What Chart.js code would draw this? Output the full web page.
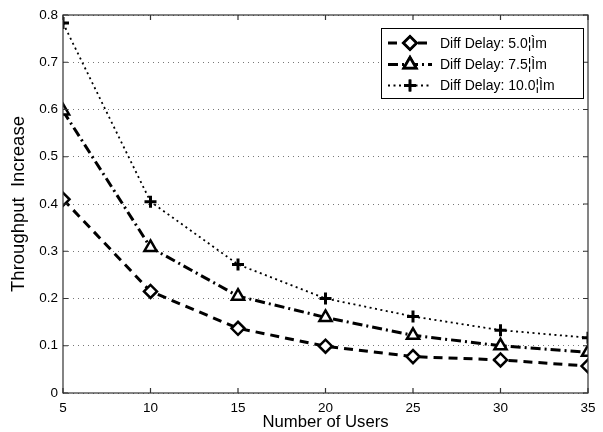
<!DOCTYPE html>
<html>
<head>
<meta charset="utf-8">
<script src="https://cdn.jsdelivr.net/npm/chart.js@4/dist/chart.umd.min.js"></script>
<style>
html,body{margin:0;padding:0;background:#fff;}
#wrap{width:603px;height:432px;position:relative;}
</style>
</head>
<body>
<div id="wrap"><canvas id="c" width="603" height="432"></canvas></div>
<script>
const users = [5, 10, 15, 20, 25, 30, 35];
const delay5 = [0.41, 0.215, 0.137, 0.099, 0.077, 0.070, 0.057];
const delay75 = [0.597, 0.308, 0.205, 0.160, 0.122, 0.100, 0.086];
const delay10 = [0.783, 0.405, 0.272, 0.200, 0.162, 0.133, 0.117];
const seriesLabels = ['Diff Delay: 5.0\u00A6\u00CCm', 'Diff Delay: 7.5\u00A6\u00CCm', 'Diff Delay: 10.0\u00A6\u00CCm'];
const xTitle = 'Number of Users';
const yTitle = 'Throughput  Increase';

function pts(vals){ return users.map((u,i)=>({x:u,y:vals[i]})); }

const FONT = "'Liberation Sans', Arial, sans-serif";

const boxPlugin = {
  id:'boxPlugin',
  afterDraw(chart){
    const {ctx, chartArea:a, scales:{x,y}} = chart;
    ctx.save();
    ctx.strokeStyle = '#333';
    ctx.lineWidth = 1.2;
    ctx.setLineDash([]);
    ctx.strokeRect(a.left, a.top, a.right-a.left, a.bottom-a.top);
    ctx.beginPath();
    x.ticks.forEach(t=>{
      const px = x.getPixelForValue(t.value);
      ctx.moveTo(px, a.bottom); ctx.lineTo(px, a.bottom-5);
      ctx.moveTo(px, a.top); ctx.lineTo(px, a.top+5);
    });
    y.ticks.forEach(t=>{
      const py = y.getPixelForValue(t.value);
      ctx.moveTo(a.left, py); ctx.lineTo(a.left+5, py);
      ctx.moveTo(a.right, py); ctx.lineTo(a.right-5, py);
    });
    ctx.stroke();
    // legend
    const lx = 381, ly = 28, lw = 202, lh = 70;
    ctx.fillStyle = '#fff';
    ctx.fillRect(lx, ly, lw, lh);
    ctx.strokeStyle = '#000';
    ctx.lineWidth = 1;
    ctx.strokeRect(lx+0.5, ly+0.5, lw, lh);
    const rows = [43, 64.5, 85.5];
    chart.data.datasets.forEach((ds, i)=>{
      const yy = rows[i];
      ctx.strokeStyle = '#000';
      ctx.lineWidth = ds.borderWidth;
      ctx.setLineDash(ds.borderDash);
      ctx.beginPath();
      ctx.moveTo(388, yy); ctx.lineTo(432, yy);
      ctx.stroke();
      ctx.setLineDash([]);
      Chart.helpers.drawPoint(ctx, {pointStyle: ds.pointStyle, radius: ds.pointRadius, borderWidth: ds.pointBorderWidth, rotation:0}, 410, yy);
      ctx.fillStyle = ds.pointBackgroundColor; ctx.strokeStyle = '#000'; ctx.lineWidth = ds.pointBorderWidth;
      ctx.fill(); ctx.stroke();
      ctx.fillStyle = '#000';
      ctx.font = '14px ' + FONT;
      ctx.textBaseline = 'middle';
      ctx.textAlign = 'left';
      ctx.fillText(ds.label, 440, yy+1);
    });
    ctx.restore();
  }
};

new Chart(document.getElementById('c'), {
  type:'line',
  data:{
    datasets:[
      {label:seriesLabels[0], data:pts(delay5), borderColor:'#000', borderWidth:3, borderDash:[9,6],
       pointStyle:'rectRot', pointRadius:6.5, pointBorderWidth:2.5, pointBackgroundColor:'#fff', pointBorderColor:'#000', tension:0},
      {label:seriesLabels[1], data:pts(delay75), borderColor:'#000', borderWidth:3, borderDash:[10,4,2,4],
       pointStyle:'triangle', pointRadius:7, pointBorderWidth:2.5, pointBackgroundColor:'#fff', pointBorderColor:'#000', tension:0},
      {label:seriesLabels[2], data:pts(delay10), borderColor:'#000', borderWidth:1.8, borderDash:[2,3.5],
       pointStyle:'cross', pointRadius:6, pointBorderWidth:3, pointBackgroundColor:'#000', pointBorderColor:'#000', tension:0}
    ]
  },
  options:{
    responsive:false,
    animation:false,
    devicePixelRatio:1,
    layout:{padding:{left:0, right:15, top:15, bottom:0}},
    plugins:{legend:{display:false}, tooltip:{enabled:false}},
    scales:{
      x:{
        type:'linear', min:5, max:35,
        ticks:{stepSize:5, color:'#000', font:{family:FONT, size:13.5}, padding:7, maxRotation:0},
        grid:{display:false, drawTicks:false},
        border:{display:false},
        title:{display:true, text:xTitle, color:'#000', font:{family:FONT, size:16.7}, padding:{top:0,bottom:0}},
        afterFit(s){ s.height = 39; }
      },
      y:{
        type:'linear', min:0, max:0.8,
        ticks:{stepSize:0.1, color:'#000', font:{family:FONT, size:13.5}, padding:5,
          callback:(v)=> (Math.round(v*10)/10).toString()},
        grid:{display:true, drawTicks:false, color:'#777', lineWidth:1, borderDash:[1,4]},
        border:{display:false, dash:[1,4]},
        title:{display:true, text:yTitle, color:'#000', font:{family:FONT, size:18.5}, padding:{top:8,bottom:0}},
        afterFit(s){ s.width = 63; }
      }
    }
  },
  plugins:[boxPlugin]
});
</script>
</body>
</html>
